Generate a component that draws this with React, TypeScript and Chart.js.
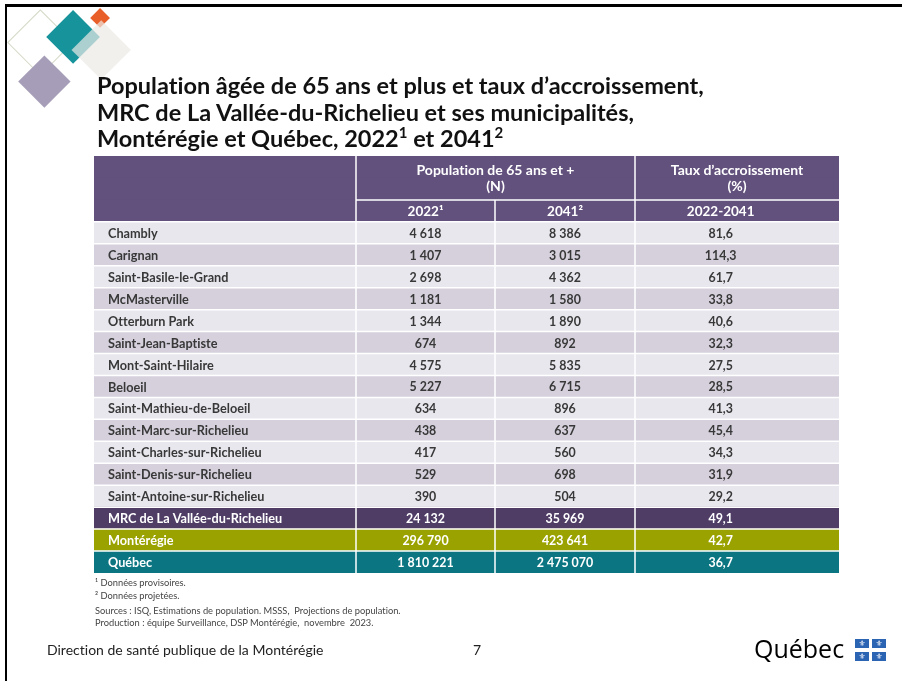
import React, { useEffect, useRef } from "react";
import { Chart, registerables } from "chart.js";

Chart.register(...registerables);

// ---------- DATA ----------
const municipalities = [
  "Chambly",
  "Carignan",
  "Saint-Basile-le-Grand",
  "McMasterville",
  "Otterburn Park",
  "Saint-Jean-Baptiste",
  "Mont-Saint-Hilaire",
  "Beloeil",
  "Saint-Mathieu-de-Beloeil",
  "Saint-Marc-sur-Richelieu",
  "Saint-Charles-sur-Richelieu",
  "Saint-Denis-sur-Richelieu",
  "Saint-Antoine-sur-Richelieu",
];
const totalRows = ["MRC de La Vallée-du-Richelieu", "Montérégie", "Québec"];
const pop2022 = [4618, 1407, 2698, 1181, 1344, 674, 4575, 5227, 634, 438, 417, 529, 390, 24132, 296790, 1810221];
const pop2041 = [8386, 3015, 4362, 1580, 1890, 892, 5835, 6715, 896, 637, 560, 698, 504, 35969, 423641, 2475070];
const growthPct = [81.6, 114.3, 61.7, 33.8, 40.6, 32.3, 27.5, 28.5, 41.3, 45.4, 34.3, 31.9, 29.2, 49.1, 42.7, 36.7];
const headerPop = ["Population de 65 ans et +", "(N)"];
const headerRate = ["Taux d’accroissement", "(%)"];
const yearLabels = ["2022¹", "2041²", "2022-2041"];
const headerRowKeys = ["header-a", "header-b", "header-years"];

// ---------- LAYOUT / STYLE ----------
const W = 902;
const H = 681;
const TABLE = { left: 94, right: 839, top: 156, bottom: 573 };
const COL_WIDTHS = [262, 139, 140, 204];
const FONT = "Lato, 'Open Sans', sans-serif";
const C = {
  header: "#62507d",
  rowLight: "#e9e7ee",
  rowDark: "#d5d0dc",
  mrc: "#4f3d66",
  monteregie: "#9aa200",
  quebec: "#0b7682",
  text: "#383838",
};

const rows = [...municipalities, ...totalRows];
const labels = [...headerRowKeys, ...rows];
const nHead = headerRowKeys.length;

const fmtInt = (n: number) => String(n).replace(/\B(?=(\d{3})+(?!\d))/g, " ");
const fmtDec = (v: number) => v.toFixed(1).replace(".", ",");

function rowColor(i: number): string {
  if (i < nHead) return C.header;
  const r = i - nHead;
  if (r < municipalities.length) return r % 2 === 0 ? C.rowLight : C.rowDark;
  const t = r - municipalities.length;
  return [C.mrc, C.monteregie, C.quebec][t];
}

const tablePlugin = {
  id: "tableCells",
  afterDatasetsDraw(chart: any) {
    const { ctx } = chart;
    const x = chart.scales.x;
    const y = chart.scales.y;
    const band = y.getPixelForValue(1) - y.getPixelForValue(0);
    const top = (i: number) => y.getPixelForValue(i) - band / 2;
    const cum: number[] = [0];
    COL_WIDTHS.forEach((w, i) => cum.push(cum[i] + w));
    const ex = cum.map((v) => x.getPixelForValue(v));
    const yEnd = top(labels.length);

    ctx.save();
    // white cell separators
    ctx.strokeStyle = "#ffffff";
    ctx.lineWidth = 1.5;
    ctx.beginPath();
    ctx.moveTo(ex[1], top(nHead - 1));
    ctx.lineTo(ex[4], top(nHead - 1));
    for (let i = nHead; i < labels.length; i++) {
      ctx.moveTo(ex[0], top(i));
      ctx.lineTo(ex[4], top(i));
    }
    ctx.moveTo(ex[1], top(0));
    ctx.lineTo(ex[1], yEnd);
    ctx.moveTo(ex[2], top(nHead - 1));
    ctx.lineTo(ex[2], yEnd);
    ctx.moveTo(ex[3], top(0));
    ctx.lineTo(ex[3], yEnd);
    ctx.stroke();

    // header texts
    ctx.fillStyle = "#ffffff";
    ctx.font = `bold 14px ${FONT}`;
    ctx.textAlign = "center";
    ctx.textBaseline = "middle";
    const hMid = top(1);
    const popX = (ex[1] + ex[3]) / 2;
    const rateX = (ex[3] + ex[4]) / 2;
    ctx.fillText(headerPop[0], popX, hMid - 7);
    ctx.fillText(headerPop[1], popX, hMid + 9);
    ctx.fillText(headerRate[0], rateX, hMid - 7);
    ctx.fillText(headerRate[1], rateX, hMid + 9);
    const valX = [
      (ex[1] + ex[2]) / 2,
      (ex[2] + ex[3]) / 2,
      ex[3] + (ex[4] - ex[3]) * 0.42,
    ];
    ctx.font = `bold 13.5px ${FONT}`;
    const yy = y.getPixelForValue(nHead - 1) + 1;
    yearLabels.forEach((t, k) => ctx.fillText(t, valX[k], yy));

    // body texts
    rows.forEach((name, r) => {
      const i = r + nHead;
      const cy = y.getPixelForValue(i) + 1;
      ctx.fillStyle = r < municipalities.length ? C.text : "#ffffff";
      ctx.font = `bold 12.7px ${FONT}`;
      ctx.textAlign = "left";
      ctx.fillText(name, ex[0] + 14, cy);
      ctx.font = `bold 12.4px ${FONT}`;
      ctx.textAlign = "center";
      ctx.fillText(fmtInt(pop2022[r]), valX[0], cy);
      ctx.fillText(fmtInt(pop2041[r]), valX[1], cy);
      ctx.fillText(fmtDec(growthPct[r]), valX[2], cy);
    });
    ctx.restore();
  },
};

function Diamond({ cx, cy, d, color, outline, opacity }: any) {
  const s = d * Math.SQRT2;
  return (
    <div
      style={{
        position: "absolute",
        left: cx - s / 2,
        top: cy - s / 2,
        width: s,
        height: s,
        transform: "rotate(45deg)",
        background: outline ? "transparent" : color,
        border: outline ? `1.5px solid ${color}` : "none",
        boxSizing: "border-box",
        opacity: opacity ?? 1,
      }}
    />
  );
}

export default function App() {
  const ref = useRef<HTMLCanvasElement | null>(null);

  useEffect(() => {
    document.body.style.margin = "0";
    const canvas = ref.current;
    if (!canvas) return;
    const chart = new Chart(canvas, {
      type: "bar",
      data: {
        labels,
        datasets: COL_WIDTHS.map((w, c) => ({
          label: `col${c}`,
          data: labels.map(() => w),
          backgroundColor: (ctx: any) => rowColor(ctx.dataIndex),
          borderWidth: 0,
          barPercentage: 1,
          categoryPercentage: 1,
          stack: "table",
        })),
      },
      options: {
        indexAxis: "y",
        responsive: false,
        animation: false,
        devicePixelRatio: 1,
        layout: {
          padding: {
            left: TABLE.left,
            right: W - TABLE.right,
            top: TABLE.top,
            bottom: H - TABLE.bottom,
          },
        },
        plugins: { legend: { display: false }, tooltip: { enabled: false }, title: { display: false } },
        scales: {
          x: {
            type: "linear",
            stacked: true,
            min: 0,
            max: COL_WIDTHS.reduce((a, b) => a + b, 0),
            display: false,
          },
          y: { type: "category", stacked: true, display: false },
        },
      } as any,
      plugins: [tablePlugin],
    });
    return () => chart.destroy();
  }, []);

  const small = {
    position: "absolute" as const,
    left: 95,
    fontSize: 9.3,
    lineHeight: "12px",
    color: "#444",
    fontFamily: FONT,
    whiteSpace: "pre" as const,
    fontVariantLigatures: "none" as const,
  };

  return (
    <div style={{ position: "relative", width: W, height: H, overflow: "hidden", background: "#fff", fontFamily: FONT, fontVariantLigatures: "none" }}>
      {/* slide frame */}
      <div style={{ position: "absolute", left: 5, top: 4, width: W, height: H, borderTop: "3px solid #000", borderLeft: "2px solid #000" }} />
      {/* decorations */}
      <Diamond cx={40} cy={42} d={33} color="#d3d9c6" outline />
      <Diamond cx={44} cy={81} d={26} color="#a69db8" />
      <Diamond cx={73} cy={37} d={27} color="#17939b" />
      <Diamond cx={100} cy={18} d={10} color="#e95f2a" />
      <Diamond cx={101} cy={50} d={30} color="#ebe9e6" opacity={0.7} />

      <canvas ref={ref} width={W} height={H} style={{ position: "absolute", left: 0, top: 0, width: W, height: H }} />

      {/* title */}
      <div style={{ position: "absolute", left: 97, top: 72, fontSize: 23.5, lineHeight: "26.5px", fontWeight: 700, color: "#111", whiteSpace: "nowrap" }}>
        <div>Population âgée de 65 ans et plus et taux d’accroissement,</div>
        <div>MRC de La Vallée-du-Richelieu et ses municipalités,</div>
        <div>
          Montérégie et Québec, 2022<sup style={{ fontSize: 15, lineHeight: 0 }}>1</sup> et 2041
          <sup style={{ fontSize: 15, lineHeight: 0 }}>2</sup>
        </div>
      </div>

      {/* notes */}
      <div style={{ ...small, top: 577 }}>¹ Données provisoires.</div>
      <div style={{ ...small, top: 590 }}>² Données projetées.</div>
      <div style={{ ...small, top: 605 }}>Sources : ISQ, Estimations de population. MSSS,  Projections de population.</div>
      <div style={{ ...small, top: 617 }}>Production : équipe Surveillance, DSP Montérégie,  novembre  2023.</div>

      {/* footer */}
      <div style={{ position: "absolute", left: 47, top: 641, fontSize: 14, lineHeight: "18px", color: "#222", whiteSpace: "nowrap" }}>
        Direction de santé publique de la Montérégie
      </div>
      <div style={{ position: "absolute", left: 473, top: 641, fontSize: 14, lineHeight: "18px", color: "#222" }}>7</div>
      <div style={{ position: "absolute", left: 754, top: 631, fontSize: 25, lineHeight: "34px", color: "#000", fontFamily: "'Open Sans', sans-serif" }}>
        Québec
      </div>
      {[0, 1].map((r) =>
        [0, 1].map((c) => (
          <div
            key={`${r}-${c}`}
            style={{
              position: "absolute",
              left: 855 + c * 17,
              top: 639 + r * 13,
              width: 14,
              height: 9,
              background: "#2c64b4",
              color: "#fff",
              fontSize: 8,
              lineHeight: "9px",
              textAlign: "center",
              fontFamily: "'DejaVu Sans', sans-serif",
            }}
          >
            ⚜
          </div>
        ))
      )}
    </div>
  );
}
